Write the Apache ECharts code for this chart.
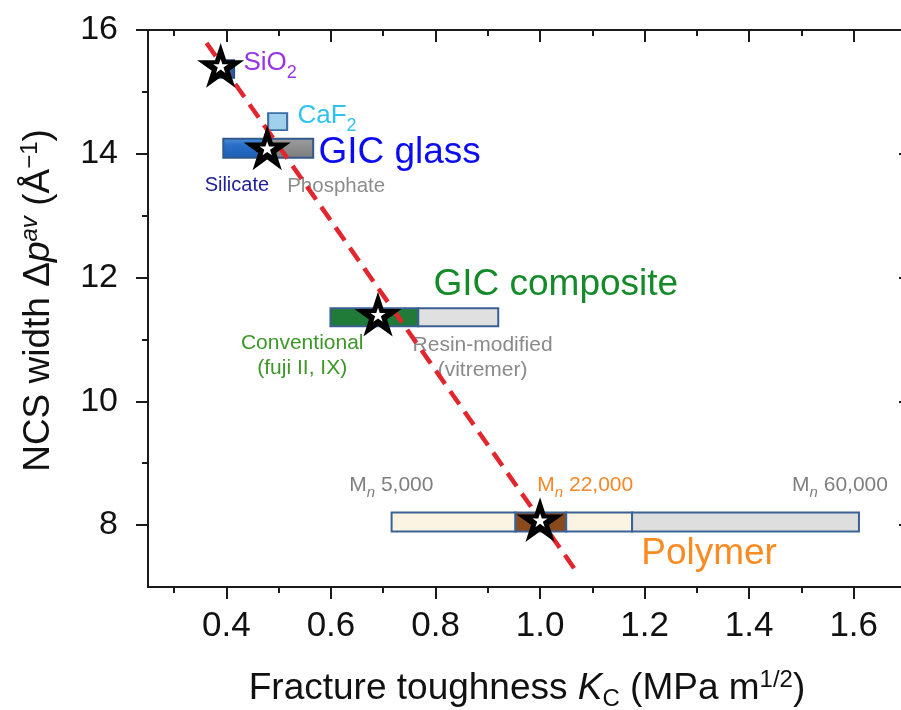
<!DOCTYPE html>
<html>
<head>
<meta charset="utf-8">
<script src="https://cdn.jsdelivr.net/npm/echarts@6/dist/echarts.min.js"></script>
<style>
  html, body { margin: 0; padding: 0; background: #ffffff; }
  #chart { width: 901px; height: 710px; }
</style>
</head>
<body>
<div id="chart"></div>
<script>
const FONT = '"Liberation Sans", Arial, Helvetica, sans-serif';

// Axis tick values
const xMajorTicks = [0.4, 0.6, 0.8, 1.0, 1.2, 1.4, 1.6];
const xMinorTicks = [0.3, 0.5, 0.7, 0.9, 1.1, 1.3, 1.5];
const yMajorTicks = [8, 10, 12, 14, 16];
const yMinorTicks = [9, 11, 13, 15];

// Single materials [K_C, NCS width]
const sio2Point = [0.398, 15.37];
const caf2Point = [0.498, 14.52];

// Material ranges: segment edges along K_C at a given NCS width
const glassEdges = [0.394, 0.475, 0.566];            // silicate | phosphate
const glassLevel = 14.09;
const compositeEdges = [0.599, 0.767, 0.92];         // conventional | resin-modified
const compositeLevel = 11.36;
const polymerEdges = [0.716, 0.953, 1.05, 1.176, 1.61]; // Mn 5,000 .. Mn 22,000 .. Mn 60,000
const polymerLevel = 8.05;

// Representative values (stars)
const starK = [0.389, 0.478, 0.69, 1.0];
const starNCS = [15.42, 14.09, 11.40, 8.08];

// Linear trend through the stars
const trendK = [0.362, 1.067];
const trendNCS = [15.79, 7.28];

// ---------------------------------------------------------------
function segments(edges, level, group) {
  const out = [];
  for (let i = 0; i < edges.length - 1; i++) out.push([edges[i], edges[i + 1], level, group, i]);
  return out;
}
const barData = []
  .concat(segments(glassEdges, glassLevel, 0))
  .concat(segments(compositeEdges, compositeLevel, 1))
  .concat(segments(polymerEdges, polymerLevel, 2));

const silicateFill = new echarts.graphic.LinearGradient(0, 0, 0, 1, [
  { offset: 0, color: '#4d93dc' }, { offset: 0.35, color: '#2a6fc6' }, { offset: 1, color: '#1b5db3' }
]);
const phosphateFill = new echarts.graphic.LinearGradient(0, 0, 0, 1, [
  { offset: 0, color: '#9d9d9d' }, { offset: 1, color: '#7c7c7c' }
]);
const barLook = [
  { h: 19, stroke: '#33598c', fills: [silicateFill, phosphateFill] },
  { h: 18, stroke: '#3a5f94', fills: ['#1f7b37', '#e0e0e0'] },
  { h: 19, stroke: '#3a6296', fills: ['#fbf4e2', '#8b4a1c', '#fbf4e2', '#dedede'] }
];

const STAR = 'path://M0,-1 L0.2245,-0.309 L0.951,-0.309 L0.363,0.118 L0.588,0.809 L0,0.382 L-0.588,0.809 L-0.363,0.118 L-0.951,-0.309 L-0.2245,-0.309 Z';
const starData = starK.map((k, i) => [k, starNCS[i]]);
const trendData = trendK.map((k, i) => [k, trendNCS[i]]);

function rich(base, small) {
  const lh = Math.round(base * 1.45);
  return {
    b: { fontFamily: FONT, fontSize: base, lineHeight: lh },
    s: { fontFamily: FONT, fontSize: small, lineHeight: small, verticalAlign: 'bottom' },
    si: { fontFamily: FONT, fontSize: small, fontStyle: 'italic', lineHeight: small, verticalAlign: 'bottom' }
  };
}

function note(pos, text, color, base, small, align, lineHeight) {
  return {
    value: pos,
    label: {
      show: true, position: 'inside', align: align, verticalAlign: 'middle',
      formatter: text, color: color, fontFamily: FONT, fontSize: base,
      lineHeight: lineHeight || undefined,
      rich: lineHeight ? {} : rich(base, small)
    }
  };
}

const notes = [
  note([0.4325, 15.467], '{b|SiO}{s|2}', '#9933e6', 26, 18, 'left'),
  note([0.5358, 14.61], '{b|CaF}{s|2}', '#2fc2f0', 26, 18, 'left'),
  note([0.576, 14.02], 'GIC glass', '#0c0cf2', 37, 0, 'left', 42),
  note([0.42, 13.48], 'Silicate', '#1e1e96', 20, 0, 'center', 24),
  note([0.61, 13.48], 'Phosphate', '#8c8c8c', 20.5, 0, 'center', 24),
  note([0.545, 10.74], 'Conventional\n(fuji II, IX)', '#3c9628', 21, 0, 'center', 25),
  note([0.89, 10.71], 'Resin-modified\n(vitremer)', '#8a8a8a', 21, 0, 'center', 25),
  note([0.796, 11.88], 'GIC composite', '#148a28', 37, 0, 'left', 42),
  note([0.635, 8.65], '{b|M}{si|n}{b| 5,000}', '#7f7f7f', 21, 15, 'left'),
  note([0.9947, 8.65], '{b|M}{si|n}{b| 22,000}', '#f7882a', 21, 15, 'left'),
  note([1.482, 8.65], '{b|M}{si|n}{b| 60,000}', '#7f7f7f', 21, 15, 'left'),
  note([1.1935, 7.535], 'Polymer', '#fa8a22', 37, 0, 'left', 42)
];

const GRID = { left: 148, top: 30, width: 758, height: 557, containLabel: false, outerBoundsMode: 'none' };
const AXIS_LINE = { show: true, lineStyle: { color: '#1a1a1a', width: 2 } };
const TICK_STYLE = { color: '#1a1a1a', width: 2 };

function xAxisDef(gridIndex, position, ticks, len, inside, withLabels) {
  return {
    type: 'value', gridIndex: gridIndex, position: position, min: 0.25, max: 1.7,
    axisLine: AXIS_LINE, splitLine: { show: false },
    axisTick: { show: true, inside: inside, length: len, customValues: ticks, lineStyle: TICK_STYLE },
    axisLabel: withLabels ? {
      show: true, customValues: ticks, margin: 22, color: '#111', fontFamily: FONT, fontSize: 35,
      formatter: v => Number(v).toFixed(1)
    } : { show: false }
  };
}
function yAxisDef(gridIndex, position, ticks, len, inside, withLabels) {
  return {
    type: 'value', gridIndex: gridIndex, position: position, min: 7, max: 16,
    axisLine: AXIS_LINE, splitLine: { show: false },
    axisTick: { show: true, inside: inside, length: len, customValues: ticks, lineStyle: TICK_STYLE },
    axisLabel: withLabels ? {
      show: true, customValues: ticks, margin: 30, color: '#111', fontFamily: FONT, fontSize: 34,
      formatter: v => String(Math.round(v))
    } : { show: false }
  };
}

const TITLE_SIZE = 37;
const titleRich = {
  b: { fontFamily: FONT, fontSize: TITLE_SIZE, lineHeight: 54 },
  i: { fontFamily: FONT, fontSize: TITLE_SIZE, fontStyle: 'italic', lineHeight: 54 },
  s: { fontFamily: FONT, fontSize: 24, lineHeight: 24, verticalAlign: 'bottom', padding: [0, 0, 5, 0] },
  p: { fontFamily: FONT, fontSize: 24, lineHeight: 24, verticalAlign: 'top', padding: [6, 0, 0, 0] },
  pi: { fontFamily: FONT, fontSize: 24, fontStyle: 'italic', lineHeight: 24, verticalAlign: 'top', padding: [6, 0, 0, 0] }
};

const xMain = xAxisDef(0, 'bottom', xMajorTicks, 12, false, true);
xMain.name = '{b|Fracture toughness }{i|K}{s|C}{b| (MPa m}{p|1/2}{b|)}';
xMain.nameLocation = 'middle';
xMain.nameGap = 75;
xMain.nameTextStyle = { color: '#111', fontFamily: FONT, fontSize: TITLE_SIZE, rich: titleRich };

const yMain = yAxisDef(0, 'left', yMajorTicks, 12, false, true);
yMain.name = '{b|NCS width Δ}{i|p}{pi|av}{b| (Å}{p|−1}{b|)}';
yMain.nameLocation = 'middle';
yMain.nameRotate = 90;
yMain.nameGap = 82;
yMain.nameTextStyle = { color: '#111', fontFamily: FONT, fontSize: TITLE_SIZE, rich: titleRich, padding: [0, 0, 0, 16] };

const option = {
  backgroundColor: '#ffffff',
  animation: false,
  textStyle: { fontFamily: FONT },
  grid: [GRID, Object.assign({}, GRID)],
  xAxis: [
    xMain,
    xAxisDef(0, 'top', xMajorTicks, 12, true, false),
    xAxisDef(1, 'bottom', xMinorTicks, 6, false, false),
    xAxisDef(1, 'top', xMinorTicks, 6, true, false)
  ],
  yAxis: [
    yMain,
    yAxisDef(0, 'right', yMajorTicks, 7, true, false),
    yAxisDef(1, 'left', yMinorTicks, 6, false, false),
    yAxisDef(1, 'right', yMinorTicks, 5, true, false)
  ],
  series: [
    {
      // material ranges
      type: 'custom', xAxisIndex: 0, yAxisIndex: 0, z: 2,
      data: barData,
      encode: { x: [0, 1], y: 2 },
      renderItem: function (params, api) {
        const look = barLook[api.value(3)];
        const a = api.coord([api.value(0), api.value(2)]);
        const b = api.coord([api.value(1), api.value(2)]);
        return {
          type: 'rect',
          shape: { x: a[0], y: a[1] - look.h / 2, width: b[0] - a[0], height: look.h },
          style: { fill: look.fills[api.value(4)], stroke: look.stroke, lineWidth: 2 }
        };
      }
    },
    {
      type: 'scatter', xAxisIndex: 0, yAxisIndex: 0, z: 3,
      symbol: 'rect', symbolSize: [18, 18],
      itemStyle: { color: '#2b5ea6', borderColor: '#2a4a80', borderWidth: 1.5, opacity: 1 },
      data: [sio2Point]
    },
    {
      type: 'scatter', xAxisIndex: 0, yAxisIndex: 0, z: 3,
      symbol: 'rect', symbolSize: [19, 17],
      itemStyle: { color: '#9fd1ec', borderColor: '#3a6ea5', borderWidth: 2, opacity: 1 },
      data: [caf2Point]
    },
    {
      type: 'scatter', xAxisIndex: 0, yAxisIndex: 0, z: 4,
      symbolSize: 0,
      itemStyle: { opacity: 1 },
      data: notes
    },
    {
      type: 'line', xAxisIndex: 0, yAxisIndex: 0, z: 5,
      showSymbol: false, symbol: 'none',
      lineStyle: { color: '#e3262d', width: 4.5, type: [16, 9], cap: 'butt' },
      data: trendData
    },
    {
      type: 'scatter', xAxisIndex: 0, yAxisIndex: 0, z: 6,
      symbol: STAR, symbolSize: [38, 36],
      itemStyle: { color: '#000000', borderColor: '#000000', borderWidth: 3, opacity: 1 },
      data: starData
    },
    {
      type: 'scatter', xAxisIndex: 0, yAxisIndex: 0, z: 7,
      symbol: STAR, symbolSize: [15, 14],
      itemStyle: { color: '#ffffff', opacity: 1 },
      data: starData
    }
  ]
};

const chart = echarts.init(document.getElementById('chart'), null, { renderer: 'canvas' });
chart.setOption(option);
</script>
</body>
</html>
